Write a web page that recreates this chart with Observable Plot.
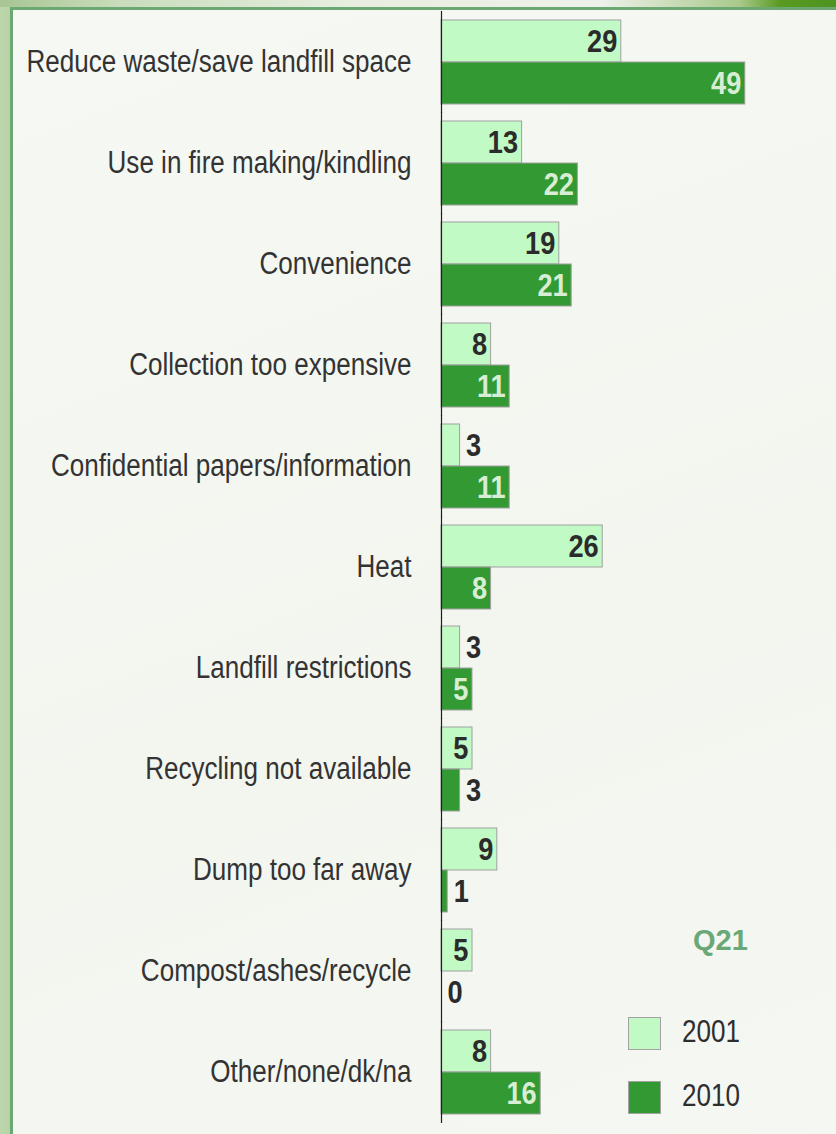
<!DOCTYPE html>
<html>
<head>
<meta charset="utf-8">
<script src="https://cdn.jsdelivr.net/npm/d3@7"></script>
<script src="https://cdn.jsdelivr.net/npm/@observablehq/plot@0.6"></script>
<style>
  html, body { margin: 0; padding: 0; }
  #wrap {
    position: relative; width: 836px; height: 1134px; overflow: hidden;
    background: linear-gradient(to right, #bdd7ad 0px, #b6d2a6 10px, #6ca874 10px, #6ca874 13px, transparent 13px),
                linear-gradient(160deg, #f6f8f3 0%, #f3f6ef 60%, #f5f7f2 100%);
    font-family: "Liberation Sans", Arial, sans-serif;
  }
  #topband {
    position: absolute; left: 0; top: 0; width: 836px; height: 7px;
    background: linear-gradient(to right, #a8c593 0px, #c9dcbc 120px, #e7eedf 350px, #eef1ea 600px, #a9c98a 740px, #5a9a22 780px, #4f9220 836px);
  }
  #topline {
    position: absolute; left: 10px; top: 7px; width: 826px; height: 3px; background: #6ca874;
  }
  #chart { position: absolute; left: 0; top: 0; }
  .q21 {
    position: absolute; left: 693px; top: 923px; font-weight: bold; font-size: 29px;
    font-family: "Liberation Sans", Arial, sans-serif;
    color: #6aa878; line-height: 34px;
  }
  .sw { position: absolute; left: 628px; width: 31px; height: 31px; border: 1px solid #a3a3a3; }
  .lt { position: absolute; left: 682px; font-size: 31px; line-height: 36px; color: #2e2e2e;
        transform: scaleX(0.84); transform-origin: 0 50%; }
</style>
</head>
<body>
<div id="wrap">
  <div id="topband"></div>
  <div id="topline"></div>
  <div id="chart"></div>
  <div class="q21">Q21</div>
  <div class="sw" style="top:1017px;background:#c2fac6"></div>
  <div class="lt" style="top:1014px">2001</div>
  <div class="sw" style="top:1081px;background:#339933"></div>
  <div class="lt" style="top:1078px">2010</div>
</div>
<script>
const categories = [
  "Reduce waste/save landfill space",
  "Use in fire making/kindling",
  "Convenience",
  "Collection too expensive",
  "Confidential papers/information",
  "Heat",
  "Landfill restrictions",
  "Recycling not available",
  "Dump too far away",
  "Compost/ashes/recycle",
  "Other/none/dk/na"
];
const years = ["2001", "2010"];
const values2001 = [29, 13, 19, 8, 3, 26, 3, 5, 9, 5, 8];
const values2010 = [49, 22, 21, 11, 11, 8, 5, 3, 1, 0, 16];
const colors = ["#c2fac6", "#339933"];
const labelColors = ["#2b2b2b", "#d8eed4"];

const data = categories.flatMap((c, i) => [
  {category: c, year: years[0], value: values2001[i]},
  {category: c, year: years[1], value: values2010[i]}
]);
const inside = data.filter(d => d.value >= 5);
const outside = data.filter(d => d.value < 5);

const chart = Plot.plot({
  width: 836,
  height: 1134,
  marginLeft: 441,
  marginRight: 23,
  marginTop: 17,
  marginBottom: 17,
  style: {background: "transparent", color: "#333", fontFamily: '"Liberation Sans", Arial, sans-serif'},
  x: {domain: [0, 60], axis: null},
  y: {domain: years, axis: null, padding: 0},
  fy: {domain: categories, padding: 0.173, label: null},
  color: {domain: years, range: colors},
  marks: [
    Plot.barX(data, {x: "value", y: "year", fy: "category", fill: "year", stroke: "#a0a0a0", strokeWidth: 1}),
    Plot.ruleX([0], {stroke: "#1e1e1e", strokeWidth: 1.2, insetTop: -9, insetBottom: -9}),
    Plot.text(inside, {
      x: "value", y: "year", fy: "category", text: d => String(d.value),
      textAnchor: "end", dx: -4, fontSize: 32, fontWeight: "bold",
      fill: d => labelColors[years.indexOf(d.year)]
    }),
    Plot.text(outside, {
      x: "value", y: "year", fy: "category", text: d => String(d.value),
      textAnchor: "start", dx: 6, fontSize: 32, fontWeight: "bold", fill: "#2b2b2b"
    }),
    Plot.axisFy({anchor: "left", tickSize: 0, tickPadding: 30, fontSize: 31, label: null, fill: "#333"})
  ]
});
document.getElementById("chart").appendChild(chart);
// condense glyphs horizontally, as in the reference (narrow face)
chart.querySelectorAll("text").forEach(t => {
  const len = t.getComputedTextLength();
  if (len > 0) {
    const bold = (t.getAttribute("font-weight") || getComputedStyle(t).fontWeight) >= 600 ||
                 getComputedStyle(t).fontWeight === "bold";
    const k = bold ? 0.85 : 0.84;
    t.setAttribute("textLength", (len * k).toFixed(2));
    t.setAttribute("lengthAdjust", "spacingAndGlyphs");
  }
});
</script>
</body>
</html>
